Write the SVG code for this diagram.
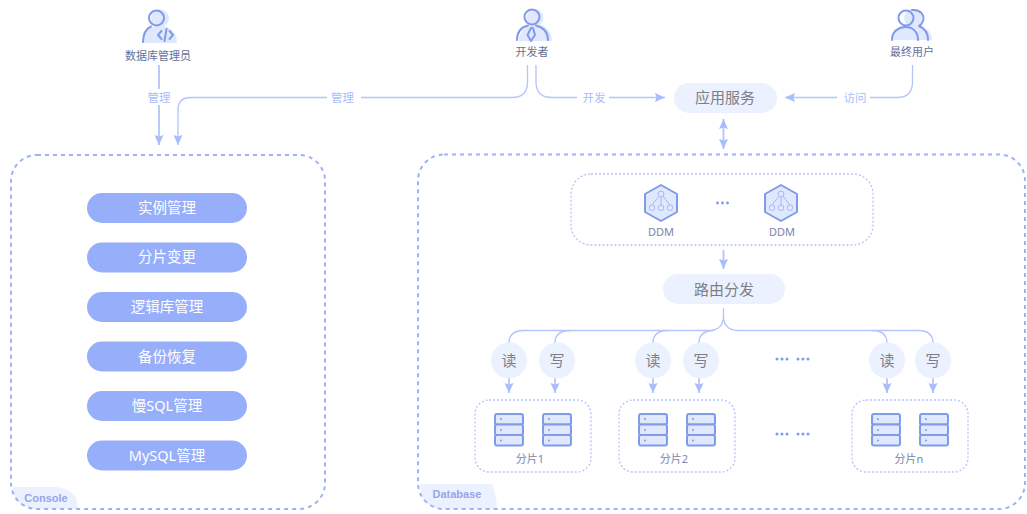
<svg xmlns="http://www.w3.org/2000/svg" width="1027" height="514" viewBox="0 0 1027 514">
<style>
text{font-family:"Noto Sans","Noto Sans CJK SC",sans-serif;text-anchor:middle}
.panel{fill:none;stroke:#9db2f7;stroke-width:2;stroke-dasharray:4 4}
.group{fill:none;stroke:#b4c4fa;stroke-width:1.3;stroke-dasharray:2 2}
.conn{fill:none;stroke:#b3c5fb;stroke-width:1.3}
.thick{stroke-width:1.8}
.clabel{font-size:11.5px;fill:#a9bdfb}
.pill{fill:#97aefa}
.pilltext{font-size:14.5px;fill:#fff}
.soft{fill:#ebf1fe}
.softtext{font-size:15px;fill:#7d7f86}
.actor{font-size:11px;fill:#666f98}
.small{font-size:11px;fill:#7884ae}
.tag{font-size:11px;font-weight:700;fill:#98a5e8;font-family:"Liberation Sans",sans-serif}
.ic{fill:none;stroke:#7f9bea;stroke-width:2;stroke-linecap:round;stroke-linejoin:round}
.icfill{fill:#e0e8fd}
.thin{fill:none;stroke:#a4b8f4;stroke-width:1}
.dot{fill:#7f9bea}
</style>
<defs>
<marker id="arr" markerUnits="userSpaceOnUse" markerWidth="11" markerHeight="11" refX="10" refY="5" orient="auto-start-reverse"><path d="M0 0.500L10 5L0 9.500L1.500 5Z" fill="#a9bdfb"/></marker>
<g id="server">
<rect x="1" y="1" width="28" height="10.500" rx="2" class="icfill"/><rect x="1" y="1" width="28" height="10.500" rx="2" class="ic"/>
<rect x="1" y="11.500" width="28" height="10.500" rx="2" class="icfill"/><rect x="1" y="11.500" width="28" height="10.500" rx="2" class="ic"/>
<rect x="1" y="22" width="28" height="10.500" rx="2" class="icfill"/><rect x="1" y="22" width="28" height="10.500" rx="2" class="ic"/>
<circle cx="7" cy="6" r="1" class="dot"/><circle cx="7" cy="17" r="1" class="dot"/><circle cx="7" cy="27.500" r="1" class="dot"/>
</g>
<g id="ddm">
<path d="M17 1L33 10V28L17 37L1 28V10Z" class="icfill"/>
<path d="M17 1L33 10V28L17 37L1 28V10Z" class="ic"/>
<circle cx="17" cy="10" r="3" class="thin"/>
<path d="M17 13V21M14.800 12.500L8 21M19.200 12.500L26 21" class="thin"/>
<rect x="5.500" y="21" width="5" height="5.500" rx="2" class="thin"/><rect x="14.500" y="21" width="5" height="5.500" rx="2" class="thin"/><rect x="23.500" y="21" width="5" height="5.500" rx="2" class="thin"/>
</g>
</defs>

<g id="connectors">
<path class="conn thick" d="M159 65V89M159 105V145" marker-end="url(#arr)"/>
<path class="conn" d="M527.500 65V82Q527.500 97.500 512 97.500H361M327 97.500H191Q178 97.500 178 110V145" marker-end="url(#arr)"/>
<path class="conn" d="M536 65V82Q536 97.500 552 97.500H577M609 97.500H665" marker-end="url(#arr)"/>
<path class="conn" d="M912.500 65V82Q912.500 97.500 897 97.500H870M837 97.500H785" marker-end="url(#arr)"/>
<path class="conn thick" d="M723.500 119V149" marker-start="url(#arr)" marker-end="url(#arr)"/>
<path class="conn thick" d="M723.500 250V269" marker-end="url(#arr)"/>
<path class="conn" d="M723.500 308V316Q723.500 330.500 708 330.500H524Q509 330.500 509 343"/>
<path class="conn" d="M570 330.500Q555 330.500 555 343"/>
<path class="conn" d="M668 330.500Q653 330.500 653 343"/>
<path class="conn" d="M714 330.500Q699 330.500 699 343"/>
<path class="conn" d="M723.500 316Q723.500 330.500 739 330.500H918Q933 330.500 933 343"/>
<path class="conn" d="M872 330.500Q887 330.500 887 343"/>
<path class="conn thick" d="M509 378V393" marker-end="url(#arr)"/>
<path class="conn thick" d="M555 378V393" marker-end="url(#arr)"/>
<path class="conn thick" d="M653 378V393" marker-end="url(#arr)"/>
<path class="conn thick" d="M699 378V393" marker-end="url(#arr)"/>
<path class="conn thick" d="M887 378V393" marker-end="url(#arr)"/>
<path class="conn thick" d="M933 378V393" marker-end="url(#arr)"/>
<text class="clabel" x="159" y="101.500">管理</text>
<text class="clabel" x="342.500" y="101.500">管理</text>
<text class="clabel" x="594" y="101.500">开发</text>
<text class="clabel" x="855" y="101.500">访问</text>
</g>

<g id="console">
<path class="soft" d="M13 487H56Q78 489 78 509H34Q13 506 13 487Z"/>
<rect class="panel" x="11" y="155" width="314" height="354" rx="26"/>
<text class="tag" x="46" y="502">Console</text>
</g>
<g id="database">
<path class="soft" d="M420 484H492Q497 497 497 509H440Q420 506 420 484Z"/>
<rect class="panel" x="418" y="154.500" width="607" height="354.500" rx="26"/>
<text class="tag" x="457" y="498">Database</text>
</g>

<g id="console-instance"><rect class="pill" x="87" y="193" width="160" height="30" rx="15"/><text class="pilltext" x="167" y="213">实例管理</text></g>
<g id="console-shard"><rect class="pill" x="87" y="242.500" width="160" height="30" rx="15"/><text class="pilltext" x="167" y="262">分片变更</text></g>
<g id="console-logic"><rect class="pill" x="87" y="292" width="160" height="30" rx="15"/><text class="pilltext" x="167" y="312">逻辑库管理</text></g>
<g id="console-backup"><rect class="pill" x="87" y="341.500" width="160" height="30" rx="15"/><text class="pilltext" x="167" y="361.500">备份恢复</text></g>
<g id="console-slow"><rect class="pill" x="87" y="391" width="160" height="30" rx="15"/><text class="pilltext" x="167" y="411">慢SQL管理</text></g>
<g id="console-mysql"><rect class="pill" x="87" y="440.500" width="160" height="30" rx="15"/><text class="pilltext" x="167" y="460.500">MySQL管理</text></g>

<g id="actor-dba">
<circle cx="160" cy="18.500" r="9" class="icfill"/>
<path class="icfill" d="M143 43C143 32 150 26 160 26C170 26 177 32 177 43Z"/>
<circle cx="156.500" cy="18" r="7.500" class="ic"/>
<path class="ic" d="M143 42C143 33 146 29 151 26.500"/>
<path class="ic" d="M161.500 31L158 35L161.500 39M169.500 31L173 35L169.500 39M166.500 29L164.500 41" stroke-width="1.500"/>
<text class="actor" x="158" y="60">数据库管理员</text>
</g>
<g id="actor-dev">
<circle cx="535" cy="17.500" r="8.500" class="icfill"/>
<path class="icfill" d="M519 41C519 30 528 24 536 24C544 24 552 30 552 41Z"/>
<circle cx="532" cy="17" r="7.500" class="ic"/>
<path class="ic" d="M517 40C517 31 522 27 528 25.500M548 40C548 31 542 27 536 25.500"/>
<path class="ic" d="M531 28L527.500 35L531 41L535 35L533 28Z" stroke-width="1.500"/>
<text class="actor" x="532" y="56">开发者</text>
</g>
<g id="actor-user">
<circle cx="913" cy="18" r="9" class="icfill"/>
<path class="icfill" d="M893 40C893 31 900 25 912 25C924 25 932 31 932 40Z"/>
<circle cx="906" cy="18" r="7.500" class="ic"/>
<path class="ic" d="M892 40C892 31 899 27 905.500 27C912 27 918 31 918 40"/>
<path class="ic" d="M912 10C920 9 925 15 923 21C922 24 920 25.500 919 26C924 28 928 33 928 40"/>
<text class="actor" x="912" y="56">最终用户</text>
</g>

<g id="app-service"><rect class="soft" x="674" y="83" width="103" height="30" rx="15"/><text class="softtext" x="725" y="103">应用服务</text></g>

<g id="ddm-group">
<rect class="group" x="571" y="174" width="302" height="71" rx="20"/>
<use href="#ddm" x="644" y="184"/>
<use href="#ddm" x="764" y="184"/>
<text class="small" x="661" y="236">DDM</text>
<text class="small" x="782" y="236">DDM</text>
<circle cx="717.500" cy="203" r="1.400" class="dot"/><circle cx="722.500" cy="203" r="1.400" class="dot"/><circle cx="727.500" cy="203" r="1.400" class="dot"/>
</g>
<g id="router"><rect class="soft" x="663" y="274" width="122" height="30" rx="15"/><text class="softtext" x="724" y="294.500">路由分发</text></g>

<g id="read1"><circle class="soft" cx="509" cy="360.500" r="18"/><text class="softtext" x="509" y="366">读</text></g>
<g id="write1"><circle class="soft" cx="557" cy="360.500" r="18"/><text class="softtext" x="557" y="366">写</text></g>
<g id="read2"><circle class="soft" cx="653" cy="360.500" r="18"/><text class="softtext" x="653" y="366">读</text></g>
<g id="write2"><circle class="soft" cx="701" cy="360.500" r="18"/><text class="softtext" x="701" y="366">写</text></g>
<g id="readn"><circle class="soft" cx="887" cy="360.500" r="18"/><text class="softtext" x="887" y="366">读</text></g>
<g id="writen"><circle class="soft" cx="933" cy="360.500" r="18"/><text class="softtext" x="933" y="366">写</text></g>

<g id="shard1">
<rect class="group" x="475" y="400" width="116" height="72" rx="14"/>
<use href="#server" x="494" y="413"/><use href="#server" x="542" y="413"/>
<text class="small" x="530" y="463">分片1</text>
</g>
<g id="shard2">
<rect class="group" x="619" y="400" width="116" height="72" rx="14"/>
<use href="#server" x="638" y="413"/><use href="#server" x="686" y="413"/>
<text class="small" x="674" y="463">分片2</text>
</g>
<g id="shardn">
<rect class="group" x="852" y="400" width="116" height="72" rx="14"/>
<use href="#server" x="871" y="413"/><use href="#server" x="919" y="413"/>
<text class="small" x="909" y="463">分片n</text>
</g>
<g id="ellipsis">
<circle cx="777" cy="359" r="1.500" class="dot"/><circle cx="782" cy="359" r="1.500" class="dot"/><circle cx="787" cy="359" r="1.500" class="dot"/>
<circle cx="798" cy="359" r="1.500" class="dot"/><circle cx="803" cy="359" r="1.500" class="dot"/><circle cx="808" cy="359" r="1.500" class="dot"/>
<circle cx="777" cy="434" r="1.500" class="dot"/><circle cx="782" cy="434" r="1.500" class="dot"/><circle cx="787" cy="434" r="1.500" class="dot"/>
<circle cx="798" cy="434" r="1.500" class="dot"/><circle cx="803" cy="434" r="1.500" class="dot"/><circle cx="808" cy="434" r="1.500" class="dot"/>
</g>
</svg>
